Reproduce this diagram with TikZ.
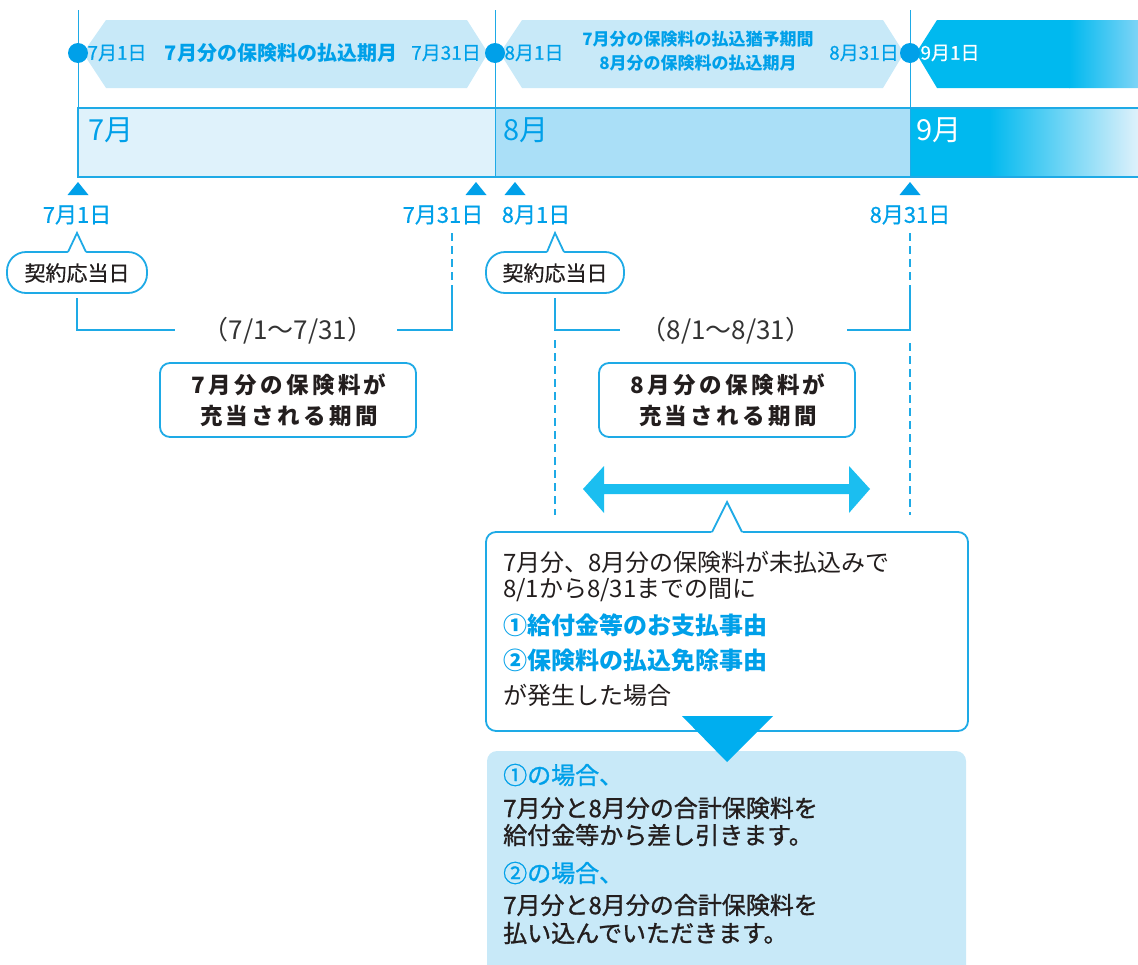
\documentclass[tikz,border=0pt]{standalone}
\usepackage{fontspec}
\setmainfont{Noto Sans CJK JP}
\newfontfamily\jpsp{Noto Sans CJK JP}[LetterSpace=15]
\newfontfamily\jpmed{Noto Sans CJK JP}[FakeBold=1.2]
\newfontfamily\jpmd{Noto Sans CJK JP}[FakeBold=0.6]
\newcommand\fsz[1]{\fontsize{#1}{#1}\selectfont}
\definecolor{cy}{RGB}{0,160,233}
\definecolor{cyline}{RGB}{30,170,230}
\definecolor{banner}{RGB}{200,233,248}
\definecolor{julf}{RGB}{223,242,251}
\definecolor{augf}{RGB}{170,223,247}
\definecolor{sepf}{RGB}{0,185,239}
\definecolor{sepl}{RGB}{222,241,251}
\definecolor{arrowc}{RGB}{27,190,240}
\definecolor{tric}{RGB}{0,174,239}
\definecolor{dark}{RGB}{35,30,30}
\definecolor{gray3}{RGB}{51,51,51}
\definecolor{boxf}{RGB}{200,233,248}
\tikzset{
  cyt/.style={text=cy, inner sep=0pt},
  dkt/.style={text=dark, inner sep=0pt},
  ln/.style={draw=cyline, line width=1.8pt},
  dsh/.style={draw=cyline, line width=1.8pt, dash pattern=on 8pt off 5pt},
}
\begin{document}
\begin{tikzpicture}[x=1pt,y=-1pt]
\useasboundingbox (0,0) rectangle (1138,964);

% top vertical lines
\foreach \xx in {78,495,910} \draw[cyline, line width=1pt] (\xx,10) -- (\xx,108);

% banners
\fill[banner] (83,53) -- (106,20) -- (467,20) -- (488,53) -- (467,88) -- (106,88) -- cycle;
\fill[banner] (500,53) -- (522,20) -- (883,20) -- (904,53) -- (883,88) -- (522,88) -- cycle;
\begin{scope}
  \clip (916,53) -- (937,20) -- (1138,20) -- (1138,88) -- (937,88) -- cycle;
  \fill[sepf] (910,15) rectangle (1070,95);
  \shade[left color=sepf, right color={rgb,255:red,125;green,212;blue,246}] (1069,15) rectangle (1138,95);
\end{scope}
\foreach \xx in {78,495,910} \fill[cy] (\xx,53) circle (10);

\node[cyt] (b1a) at (117,53) {\fsz{19}\jpmd 7月1日};
\node[cyt] (b1t) at (281,53) {\fsz{20}\bfseries 7月分の保険料の払込期月};
\node[cyt] (b1b) at (446,53) {\fsz{19}\jpmd 7月31日};
\node[cyt] (b2a) at (534,53) {\fsz{19}\jpmd 8月1日};
\node[cyt, align=center, font=\fontsize{17}{24}\selectfont\bfseries] (b2t) at (698,51) {7月分の保険料の払込猶予期間\\ 8月分の保険料の払込期月};
\node[cyt] (b2b) at (864,53) {\fsz{19}\jpmd 8月31日};
\node[text=white, inner sep=0pt] (b3a) at (950,53) {\fsz{19}\jpmd 9月1日};

% month band
\fill[julf] (78,108) rectangle (495,177);
\fill[augf] (495,108) rectangle (910,177);
\fill[sepf] (910,108) rectangle (990,177);
\shade[left color=sepf, right color=sepl] (989,108) rectangle (1138,177);
\draw[cyline, line width=1.8pt] (1138,108) -- (78,108) -- (78,177) -- (1138,177);
\draw[cyline, line width=1pt] (495,108) -- (495,177);
\draw[cyline, line width=1pt] (910,108) -- (910,177);
\node[cyt, anchor=west] (m7) at (88,130) {\fsz{29}7月};
\node[cyt, anchor=west] (m8) at (503,130) {\fsz{29}8月};
\node[text=white, inner sep=0pt, anchor=west] (m9) at (916,130) {\fsz{29}9月};

% markers
\foreach \xx in {78,476,515,910} \fill[cy] (\xx-10.5,195) -- (\xx+10.5,195) -- (\xx,182) -- cycle;
\node[cyt] (d71) at (77,215) {\fsz{22}\jpmd 7月1日};
\node[cyt] (d731) at (443,215) {\fsz{22}\jpmd 7月31日};
\node[cyt] (d81) at (536,215) {\fsz{22}\jpmd 8月1日};
\node[cyt] (d831) at (910,215) {\fsz{22}\jpmd 8月31日};

% pills
\draw[ln, fill=white, rounded corners=19] (7,252) rectangle (147,293);
\fill[white] (67.5,253.5) -- (77,233) -- (86.5,253.5) -- cycle;
\draw[ln, line join=miter] (68,252) -- (77,233) -- (86,252);
\node[dkt] (p1) at (77,273) {\fsz{21}\jpmd 契約応当日};
\draw[ln, fill=white, rounded corners=19] (486,252) rectangle (624,293);
\fill[white] (546.5,253.5) -- (555,233) -- (564.5,253.5) -- cycle;
\draw[ln, line join=miter] (547,252) -- (555,233) -- (564,252);
\node[dkt] (p2) at (555,273) {\fsz{21}\jpmd 契約応当日};

% brackets
\node[text=gray3, inner sep=0pt] (r7) at (288,331) {\fsz{26}（7/1～7/31）};
\node[text=gray3, inner sep=0pt] (r8) at (726,331) {\fsz{26}（8/1～8/31）};
\draw[ln] (77,298) -- (77,330) -- (175,330);
\draw[ln] (397,330) -- (452,330) -- (452,291);
\draw[dsh] (452,233) -- (452,291);
\draw[ln] (555,298) -- (555,330) -- (620,330);
\draw[ln] (847,330) -- (910,330) -- (910,291);
\draw[dsh] (910,233) -- (910,291);
\draw[dsh] (555,340) -- (555,515);
\draw[dsh] (910,343) -- (910,515);

% boxes
\draw[ln, rounded corners=10] (160,363) rectangle (416,437);
\node[dkt, align=center, font=\fontsize{22.5}{31}\selectfont\jpsp\bfseries] (bx7) at (289,400) {7月分の保険料が\\充当される期間};
\draw[ln, rounded corners=10] (599,363) rectangle (855,437);
\node[dkt, align=center, font=\fontsize{22.5}{31}\selectfont\jpsp\bfseries] (bx8) at (728,400) {8月分の保険料が\\充当される期間};

% double arrow
\fill[arrowc] (583,489) -- (604,466) -- (604,484) -- (849,484) -- (849,466) -- (870,489)
  -- (849,513) -- (849,494) -- (604,494) -- (604,513) -- cycle;

% callout
\draw[ln, fill=white, rounded corners=10] (486,532) rectangle (968,731);
\fill[white] (711,533.5) -- (727,502) -- (743,533.5) -- cycle;
\draw[ln, line join=miter] (712,532) -- (727,502) -- (742,532);
\node[dkt, anchor=west] (c1) at (503,562) {\fsz{24}7月分、8月分の保険料が未払込みで};
\node[dkt, anchor=west] (c2) at (503,590) {\fsz{24}8/1から8/31までの間に};
\node[cyt, anchor=west] (c3) at (503,625) {\fsz{24}\bfseries ①給付金等のお支払事由};
\node[cyt, anchor=west] (c4) at (503,660) {\fsz{24}\bfseries ②保険料の払込免除事由};
\node[dkt, anchor=west] (c5) at (503,695) {\fsz{24}が発生した場合};

% result box
\begin{scope}
  \clip (0,0) rectangle (1138,964);
  \fill[boxf, rounded corners=10] (487,751) rectangle (966,990);
\end{scope}
\fill[tric] (682,716) -- (773,716) -- (727,762) -- cycle;
\node[cyt, anchor=west] (r1) at (503,775) {\fsz{24}\jpmed ①の場合、};
\node[dkt, anchor=west] (r2) at (503,808) {\fsz{24}\jpmed 7月分と8月分の合計保険料を};
\node[dkt, anchor=west] (r3) at (503,835) {\fsz{24}\jpmed 給付金等から差し引きます。};
\node[cyt, anchor=west] (r4) at (503,873) {\fsz{24}\jpmed ②の場合、};
\node[dkt, anchor=west] (r5) at (503,905) {\fsz{24}\jpmed 7月分と8月分の合計保険料を};
\node[dkt, anchor=west] (r6) at (503,933) {\fsz{24}\jpmed 払い込んでいただきます。};
\end{tikzpicture}
\end{document}
